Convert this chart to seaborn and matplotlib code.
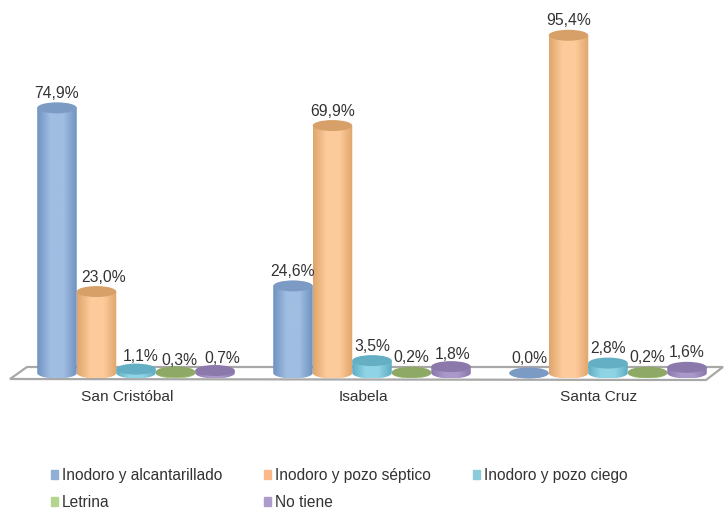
import numpy as np
import pandas as pd
import seaborn as sns
import matplotlib.pyplot as plt
from matplotlib.colors import LinearSegmentedColormap
from matplotlib.patches import Ellipse, Patch, Polygon
from matplotlib.path import Path
from matplotlib.transforms import Affine2D, ScaledTranslation

sns.set_theme(style='white')
plt.rcParams['font.family'] = ['Liberation Sans', 'DejaVu Sans']

islas = ['San Cristóbal', 'Isabela', 'Santa Cruz']
tipos = ['Inodoro y alcantarillado', 'Inodoro y pozo séptico', 'Inodoro y pozo ciego', 'Letrina', 'No tiene']
alcantarillado = [74.9, 24.6, 0.0]
septico = [23.0, 69.9, 95.4]
ciego = [1.1, 3.5, 2.8]
letrina = [0.3, 0.2, 0.2]
no_tiene = [0.7, 1.8, 1.6]
series = [alcantarillado, septico, ciego, letrina, no_tiene]

# colores: leyenda, borde del cilindro, centro del cilindro, tapa
legend_colors = ['#8FAFD6', '#FBB98A', '#8CCBDC', '#B5D58E', '#AD9BCB']
edge_colors = ['#6F93C0', '#E0A56C', '#5FADC2', '#8CA964', '#8A77AB']
mid_colors = ['#A0BDE2', '#FDCB9B', '#8FD4E6', '#B4CE84', '#AB98CA']
top_colors = ['#7B9BC4', '#D8A069', '#64AFC4', '#8DA965', '#8C79AC']

df = pd.DataFrame({
    'isla': np.repeat(islas, len(tipos)),
    'tipo': tipos * len(islas),
    'valor': np.array(series).T.ravel(),
})

fig = plt.figure(figsize=(7.25, 5.12), dpi=100)
ax = fig.add_axes([0, 139 / 512, 1, 373 / 512])

sns.barplot(data=df, x='isla', y='valor', hue='tipo', order=islas, hue_order=tipos,
            palette=legend_colors, width=0.837, saturation=1, ax=ax)

px_x = 1 / 236   # unidades de categoria por pixel
px_y = 1 / 3.54  # % por pixel
cap = 11 * px_y  # alto de la elipse

# piso del grafico, en pixeles de la imagen
to_px = Affine2D().scale(1, -1).translate(0, 512)
ax.add_patch(Polygon([(10, 379), (27, 367), (723, 367), (706, 380)], closed=True, transform=to_px,
                     facecolor='white', edgecolor='#A8A8A8', lw=1.6, clip_on=False, zorder=1))

# cada barra se vuelve cilindro
for i, cont in enumerate(ax.containers):
    cmap = LinearSegmentedColormap.from_list('c', [edge_colors[i], mid_colors[i], mid_colors[i], edge_colors[i]])
    for j, bar in enumerate(cont):
        bar.set_alpha(0)
        x0, w, h = bar.get_x(), bar.get_width(), bar.get_height()
        xc = x0 + w / 2
        z = 3 + j * 5 + i
        t = np.linspace(np.pi, 2 * np.pi, 30)
        verts = [(x0, h)] + list(zip(xc + w / 2 * np.cos(t), cap / 2 * np.sin(t))) + [(x0 + w, h), (x0, h)]
        img = ax.imshow(np.linspace(0, 1, 64)[None, :], cmap=cmap, aspect='auto', zorder=z,
                        extent=(x0, x0 + w, -cap / 2, h))
        img.set_clip_path(Path(verts, closed=True), ax.transData)
        img.set_clip_box(fig.bbox)
        ax.add_patch(Ellipse((xc, h), w, cap, facecolor=top_colors[i], edgecolor='none', zorder=z, clip_on=False))

ax.set_xlim(-136 * px_x, 589 * px_x)
ax.set_ylim(0, 373 * px_y)

# etiquetas corridas a mano, como en el original (serie, isla): puntos
nudge = {(1, 0): (5, 0), (2, 0): (3, -1.5), (3, 0): (3, -2.5), (4, 0): (5, -1.5), (4, 1): (1, -1.5)}
for i, (cont, vals) in enumerate(zip(ax.containers, series)):
    labs = ax.bar_label(cont, labels=[f'{v:.1f}%'.replace('.', ',') for v in vals], padding=5,
                        fontsize=11.3, color='#333333')
    for j, lab in enumerate(labs):
        lab.set_zorder(40)
        dx, dy = nudge.get((i, j), (0, 0))
        lab.xyann = (lab.xyann[0] + dx, lab.xyann[1] + dy)

sns.despine(ax=ax, left=True, bottom=True, top=True, right=True)
ax.patch.set_alpha(0)
ax.set_xlabel('')
ax.set_ylabel('')
ax.set_yticks([])
ax.tick_params(axis='x', length=0, pad=12, labelsize=11.1, labelcolor='#333333')
shift = ScaledTranslation(-9 / 100, 0, fig.dpi_scale_trans)
for lab in ax.get_xticklabels():
    lab.set_transform(lab.get_transform() + shift)

orden = [0, 3, 1, 4, 2]
handles = [Patch(color=legend_colors[k]) for k in orden]
ax.legend(handles, [tipos[k] for k in orden], ncol=3, frameon=False,
          loc='lower left', bbox_to_anchor=(51 / 725, 2 / 512), bbox_transform=fig.transFigure,
          fontsize=11.2, labelcolor='#333333', handlelength=0.45, handleheight=0.5,
          handletextpad=0.25, columnspacing=2.7, labelspacing=0.75, borderpad=0, borderaxespad=0)

fig.savefig('out.png', dpi=100)
